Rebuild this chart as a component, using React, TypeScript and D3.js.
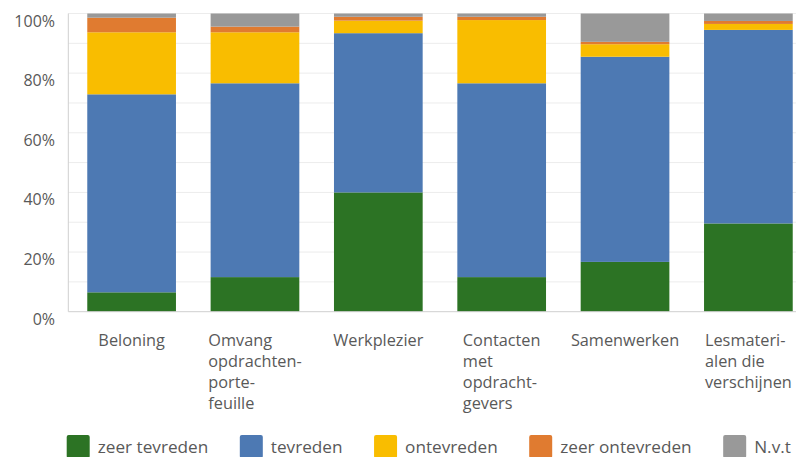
import React, { useEffect, useRef } from "react";
import * as d3 from "d3";

const categories = ["Beloning", "Omvang opdrachtenportefeuille", "Werkplezier", "Contacten met opdrachtgevers", "Samenwerken", "Lesmaterialen die verschijnen"];
const categoryLines = [
  ["Beloning"],
  ["Omvang", "opdrachten-", "porte-", "feuille"],
  ["Werkplezier"],
  ["Contacten", "met", "opdracht-", "gevers"],
  ["Samenwerken"],
  ["Lesmateri-", "alen die", "verschijnen"],
];
const seriesNames = ["zeer tevreden", "tevreden", "ontevreden", "zeer ontevreden", "N.v.t"];
const seriesColors = ["#2c7324", "#4d79b3", "#f9bd00", "#e07b30", "#999999"];
const zeerTevreden = [6.5, 11.6, 40.0, 11.6, 16.7, 29.6];
const tevreden = [66.4, 65.0, 53.4, 65.0, 68.8, 64.9];
const ontevreden = [20.8, 17.1, 4.2, 21.2, 4.2, 2.0];
const zeerOntevreden = [4.9, 1.9, 1.3, 1.1, 0.8, 1.0];
const nvt = [1.4, 4.4, 1.1, 1.1, 9.5, 2.5];
const yTicks = [0, 20, 40, 60, 80, 100];
const gridTicks = [10, 20, 30, 40, 50, 60, 70, 80, 90, 100];

const W = 796;
const H = 457;
const FONT = "'Open Sans', sans-serif";
const TEXT = "#595959";

export default function App() {
  const ref = useRef<SVGSVGElement>(null);

  useEffect(() => {
    document.body.style.margin = "0";
    const svg = d3.select(ref.current);
    svg.selectAll("*").remove();

    const x = d3.scaleBand<string>().domain(categories).range([70, 810]).paddingInner(0.281).paddingOuter(0.14);
    const y = d3.scaleLinear().domain([0, 100]).range([311.7, 13.5]);
    const axisX = 68.3;

    // gridlines
    svg.append("g").selectAll("line").data(gridTicks).join("line")
      .attr("x1", axisX).attr("x2", W)
      .attr("y1", (d) => y(d)).attr("y2", (d) => y(d))
      .attr("stroke", "#ececec").attr("stroke-width", 1);

    // stacked bars
    const table = categories.map((c, i) => ({
      cat: c,
      s0: zeerTevreden[i], s1: tevreden[i], s2: ontevreden[i], s3: zeerOntevreden[i], s4: nvt[i],
    }));
    const keys = ["s0", "s1", "s2", "s3", "s4"];
    const stacked = d3.stack<any>().keys(keys)(table);
    const gBars = svg.append("g");
    stacked.forEach((layer, li) => {
      gBars.append("g").attr("fill", seriesColors[li]).selectAll("rect").data(layer).join("rect")
        .attr("x", (d: any) => x(d.data.cat)!)
        .attr("width", x.bandwidth())
        .attr("y", (d: any) => y(d[1]))
        .attr("height", (d: any) => y(d[0]) - y(d[1]));
    });

    // axis lines
    svg.append("line").attr("x1", axisX).attr("x2", axisX).attr("y1", y(100)).attr("y2", y(0))
      .attr("stroke", "#cfcfcf").attr("stroke-width", 1);
    svg.append("line").attr("x1", axisX).attr("x2", W).attr("y1", y(0)).attr("y2", y(0))
      .attr("stroke", "#cfcfcf").attr("stroke-width", 1);

    // y tick labels
    svg.append("g").selectAll("text").data(yTicks).join("text")
      .attr("x", 55).attr("y", (d) => y(d) + 13)
      .attr("text-anchor", "end")
      .attr("font-family", FONT).attr("font-size", 16).attr("fill", TEXT)
      .text((d) => `${d}%`);

    // category labels
    categories.forEach((c, i) => {
      const g = svg.append("g");
      const t = g.append("text").attr("font-family", FONT).attr("font-size", 16.3).attr("fill", TEXT);
      categoryLines[i].forEach((line, li) => {
        t.append("tspan").attr("x", 0).attr("y", 346 + li * 21).text(line);
      });
      let maxW = 0;
      t.selectAll<SVGTSpanElement, unknown>("tspan").each(function () {
        maxW = Math.max(maxW, this.getComputedTextLength());
      });
      const cx = x(c)! + x.bandwidth() / 2;
      g.attr("transform", `translate(${cx - maxW / 2},0)`);
    });

    // legend
    const lg = svg.append("g");
    let lx = 66.7;
    seriesNames.forEach((name, i) => {
      lg.append("rect").attr("x", lx).attr("y", 435).attr("width", 23).attr("height", 23)
        .attr("rx", 2).attr("fill", seriesColors[i]);
      const t = lg.append("text").attr("x", lx + 31).attr("y", 453)
        .attr("font-family", FONT).attr("font-size", 17.2).attr("fill", TEXT).text(name);
      const tw = (t.node() as SVGTextElement).getComputedTextLength();
      lx = lx + 31 + tw + 31.5;
    });
  }, []);

  return <svg ref={ref} width={W} height={H} style={{ display: "block", background: "#fff" }} />;
}
